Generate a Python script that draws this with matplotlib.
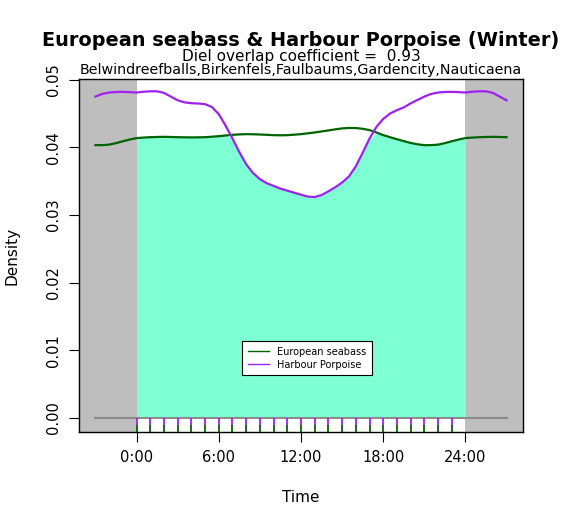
import numpy as np
import matplotlib
matplotlib.use("Agg")
import matplotlib.pyplot as plt

# Density estimates (per hour), hours 0..24 in 0.5 h steps
hours = [i * 0.5 for i in range(49)]
seabass = [0.04137, 0.04144, 0.04150, 0.04153, 0.04155, 0.04153, 0.04150, 0.04148, 0.04147, 0.04148,
           0.04150, 0.04157, 0.04165, 0.04175, 0.04185, 0.04191, 0.04195, 0.04193, 0.04190, 0.04185,
           0.04180, 0.04178, 0.04180, 0.04187, 0.04195, 0.04207, 0.04220, 0.04235, 0.04250, 0.04266,
           0.04280, 0.04286, 0.04285, 0.04274, 0.04255, 0.04220, 0.04180, 0.04150, 0.04120, 0.04092,
           0.04065, 0.04045, 0.04032, 0.04033, 0.04040, 0.04062, 0.04090, 0.04115, 0.04137]
porpoise = [0.04810, 0.04822, 0.04828, 0.04828, 0.04805, 0.04750, 0.04695, 0.04665, 0.04652, 0.04648,
            0.04638, 0.04595, 0.04490, 0.04320, 0.04130, 0.03930, 0.03750, 0.03620, 0.03530, 0.03470,
            0.03430, 0.03390, 0.03360, 0.03330, 0.03300, 0.03272, 0.03265, 0.03295, 0.03350, 0.03410,
            0.03480, 0.03570, 0.03720, 0.03920, 0.04130, 0.04300, 0.04420, 0.04500, 0.04550, 0.04590,
            0.04650, 0.04700, 0.04750, 0.04790, 0.04810, 0.04818, 0.04820, 0.04816, 0.04810]
rug_seabass = list(range(24))
rug_porpoise = list(range(24))
species = ["European seabass", "Harbour Porpoise"]
title = "European seabass & Harbour Porpoise (Winter)"
subtitle = "Diel overlap coefficient =  0.93"
sites = "Belwindreefballs,Birkenfels,Faulbaums,Gardencity,Nauticaena"
xtick_vals = [0, 6, 12, 18, 24]
xtick_labels = ["0:00", "6:00", "12:00", "18:00", "24:00"]
ytick_vals = [0.00, 0.01, 0.02, 0.03, 0.04, 0.05]

col_a = "#006400"
col_b = "#A020F0"

h = np.array(hours)
a = np.array(seabass)
b = np.array(porpoise)
# extend circularly to -3..27
mask_lo = h >= 21
mask_hi = h <= 3
hx = np.concatenate([h[mask_lo][:-1] - 24, h, h[mask_hi][1:] + 24])
ax_ = np.concatenate([a[mask_lo][:-1], a, a[mask_hi][1:]])
bx_ = np.concatenate([b[mask_lo][:-1], b, b[mask_hi][1:]])

fig = plt.figure(figsize=(5.64, 5.30), dpi=100)
ax = fig.add_axes([79/564, 98/530, 444/564, 353/530])
xmin, xmax = -4.2, 28.2
ymin, ymax = -0.00207, 0.0501
ax.set_xlim(xmin, xmax)
ax.set_ylim(ymin, ymax)

ax.axvspan(xmin, 0, color="#BEBEBE", lw=0, zorder=0)
ax.axvspan(24, xmax, color="#BEBEBE", lw=0, zorder=0)
ax.fill_between(h, 0, np.minimum(a, b), color="#7FFFD4", lw=0, zorder=1)
ax.plot([-3, 27], [0, 0], color="#8C8C8C", lw=1.5, zorder=2)

ax.plot(hx, ax_, color=col_a, lw=1.6, zorder=3, label=species[0])
ax.plot(hx, bx_, color=col_b, lw=1.6, zorder=3, label=species[1])

rug_mid = -0.0011
ax.vlines(rug_porpoise, rug_mid, 0, color=col_b, lw=1.3, zorder=4)
ax.vlines(rug_seabass, ymin, rug_mid, color=col_a, lw=1.3, zorder=4)

ax.set_xticks(xtick_vals)
ax.set_xticklabels(xtick_labels, fontsize=10.5)
ax.set_yticks(ytick_vals)
ax.set_yticklabels([f"{v:.2f}" for v in ytick_vals], fontsize=10.5, rotation=90, va="center")
ax.tick_params(direction="out", length=7, width=0.8, pad=6)
for s in ax.spines.values():
    s.set_linewidth(1.0)

ax.set_xlabel("Time", fontsize=11, labelpad=18)
ax.set_ylabel("Density", fontsize=11, labelpad=19)

leg = ax.legend(loc="upper left", bbox_to_anchor=((237-79)/444, (432-336)/353),
                fontsize=7, frameon=True, fancybox=False, edgecolor="black",
                framealpha=1, handlelength=2.2, borderpad=0.6, labelspacing=0.3)
leg.get_frame().set_linewidth(0.8)
for ln in leg.get_lines():
    ln.set_linewidth(1.0)

fig.text(301/564, 1 - 40/530, title, ha="center", va="center", fontsize=13.9, fontweight="bold")
fig.text(301/564, 1 - 56/530, subtitle, ha="center", va="center", fontsize=11)
fig.text(301/564, 1 - 70/530, sites, ha="center", va="center", fontsize=10.3)

fig.savefig("out.png", dpi=100)
